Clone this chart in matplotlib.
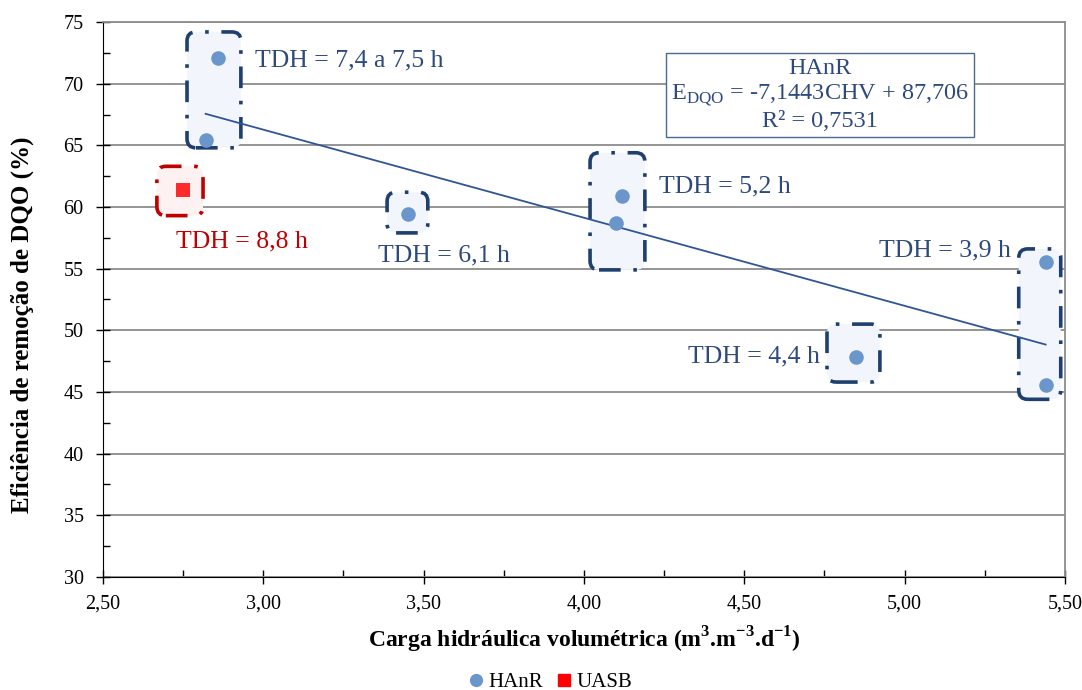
import matplotlib
matplotlib.use("Agg")
import matplotlib.pyplot as plt
from matplotlib.patches import FancyBboxPatch
from matplotlib.lines import Line2D
from matplotlib.ticker import MultipleLocator, FuncFormatter
import numpy as np

plt.rcParams['font.family'] = ['Liberation Serif', 'DejaVu Serif']
plt.rcParams['mathtext.fontset'] = 'custom'
plt.rcParams['mathtext.rm'] = 'Liberation Serif'
plt.rcParams['mathtext.bf'] = 'Liberation Serif:bold'

# data
hanr_chv = [2.86, 2.82, 3.45, 4.12, 4.10, 4.85, 5.44, 5.44]
hanr_eff = [72.1, 65.4, 59.4, 60.9, 58.7, 47.8, 55.5, 45.6]
uasb_chv = [2.75]
uasb_eff = [61.4]
slope, intercept = -7.1443, 87.706
r2 = 0.7531

tdh_labels = ["TDH = 7,4 a 7,5 h", "TDH = 8,8 h", "TDH = 6,1 h",
              "TDH = 5,2 h", "TDH = 4,4 h", "TDH = 3,9 h"]

# highlight boxes (x0, x1, y0, y1) and label anchors
boxes = [(2.762, 2.930, 64.8, 74.2), (2.668, 2.812, 59.3, 63.3),
         (3.386, 3.513, 57.9, 61.2), (4.019, 4.190, 54.9, 64.4),
         (4.758, 4.923, 45.8, 50.5), (5.356, 5.487, 44.4, 56.6)]
label_pos = [(2.975, 71.9, 'left'), (2.728, 57.2, 'left'), (3.357, 56.1, 'left'),
             (4.235, 61.7, 'left'), (4.735, 47.9, 'right'), (5.330, 56.5, 'right')]

blue_txt = '#2E4A7D'
red_txt = '#C00000'
pt_blue = '#6A96CC'

fig = plt.figure(figsize=(10.82, 6.90), dpi=100)
ax = fig.add_axes([0.0952, 0.164, 0.889, 0.804])

ax.set_xlim(2.5, 5.5)
ax.set_ylim(30, 75)
ax.yaxis.grid(True, color='#8C8C8C', lw=1.3)
ax.set_axisbelow(True)

# x px per unit / y px per unit, so corners come out round
aspect = 320.7 / 12.33
for i, (x0, x1, y0, y1) in enumerate(boxes):
    red = i == 1
    ec = '#C00000' if red else '#1F3F6F'
    fc = '#FDF1F1' if red else '#F2F6FC'
    p = FancyBboxPatch((x0, y0), x1 - x0, y1 - y0,
                       boxstyle="round,pad=0,rounding_size=0.028",
                       mutation_aspect=aspect,
                       ec=ec, fc=fc, lw=2.6, ls=(0, (6, 3.5, 1, 3.5)), zorder=2)
    ax.add_patch(p)
    tx, ty, ha = label_pos[i]
    ax.text(tx, ty, tdh_labels[i], ha=ha, va='center', fontsize=18.5,
            color=red_txt if red else blue_txt, zorder=5)

xs = np.array([min(hanr_chv), max(hanr_chv)])
ax.plot(xs, slope * xs + intercept, color='#2F5597', lw=1.3, zorder=3)

ax.scatter(hanr_chv, hanr_eff, s=110, color=pt_blue, marker='o', zorder=4, lw=0)
ax.scatter(uasb_chv, uasb_eff, s=110, color='#FF2A2A', marker='s', zorder=4, lw=0)

eq = ("HAnR\n" + r"E$_{\mathrm{DQO}}$ = -7,1443CHV + 87,706" + "\n" +
      "R² = " + f"{r2:.4f}".replace('.', ','))
ax.text(4.736, 69.1, eq, ha='center', va='center', fontsize=17.5, color=blue_txt,
        linespacing=1.2, zorder=6,
        bbox=dict(boxstyle='square,pad=0.2', fc='white', ec='#4A6A8F', lw=1.0))

ax.xaxis.set_major_locator(MultipleLocator(0.5))
ax.xaxis.set_minor_locator(MultipleLocator(0.25))
ax.yaxis.set_major_locator(MultipleLocator(5))
ax.yaxis.set_minor_locator(MultipleLocator(2.5))
ax.xaxis.set_major_formatter(FuncFormatter(lambda v, p: f"{v:.2f}".replace('.', ',')))
ax.tick_params(axis='both', which='major', direction='inout', length=10, width=1,
               labelsize=14.5)
ax.tick_params(axis='both', which='minor', direction='in', length=5, width=1)
ax.tick_params(axis='x', pad=8)
ax.tick_params(axis='y', pad=9)
for s in ['top', 'right']:
    ax.spines[s].set_color('#8C8C8C')
    ax.spines[s].set_linewidth(1.3)

ax.set_xlabel(r"Carga hidráulica volumétrica (m$^{\mathbf{3}}$.m$^{\mathbf{-3}}$.d$^{\mathbf{-1}}$)",
              fontsize=17, fontweight='bold', labelpad=8)
ax.set_ylabel("Eficiência de remoção de DQO (%)", fontsize=18, fontweight='bold')
ax.yaxis.set_label_coords(-0.072, 0.455)

handles = [Line2D([], [], ls='', marker='o', color=pt_blue, ms=8.5, label='HAnR'),
           Line2D([], [], ls='', marker='s', color='#FF0000', ms=8.5, label='UASB')]
fig.legend(handles=handles, loc='lower center', ncol=2, frameon=False, fontsize=15,
           handlelength=0.8, handletextpad=0.2, columnspacing=0.6,
           bbox_to_anchor=(0.508, -0.03))

fig.savefig("out.png", dpi=100)
